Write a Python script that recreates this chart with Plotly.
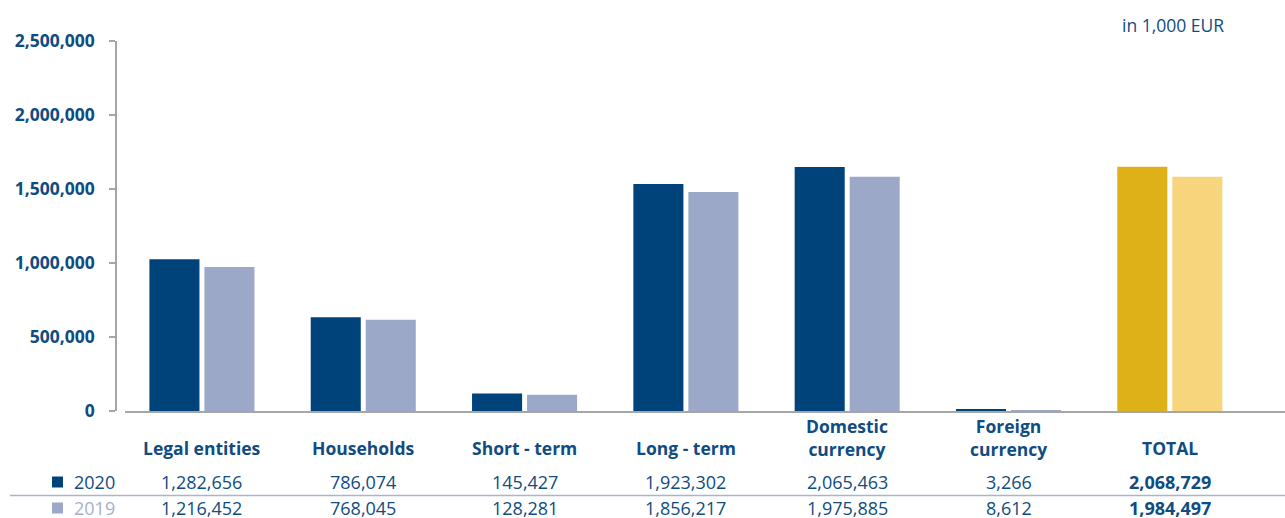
import plotly.graph_objects as go

# ---- data ----
categories = ["Legal entities", "Households", "Short - term", "Long - term",
              "Domestic<br>currency", "Foreign<br>currency", "TOTAL"]
# bar heights (axis scale)
bars_2020 = [1025000, 633000, 119000, 1534000, 1649000, 9000, 1651000]
bars_2019 = [973000, 617000, 110000, 1480000, 1583000, 5000, 1583000]
# table values printed under the chart
table_2020 = ["1,282,656", "786,074", "145,427", "1,923,302", "2,065,463", "3,266", "2,068,729"]
table_2019 = ["1,216,452", "768,045", "128,281", "1,856,217", "1,975,885", "8,612", "1,984,497"]
y_ticks = [0, 500000, 1000000, 1500000, 2000000, 2500000]
y_tick_labels = ["0", "500,000", "1,000,000", "1,500,000", "2,000,000", "2,500,000"]
unit_label = "in 1,000 EUR"
years = ["2020", "2019"]

# ---- style ----
W, H = 1285, 518
ML, MR, MT, MB = 116, 0, 41, 107
PW, PH = W - ML - MR, H - MT - MB
DARK = "#00437b"
LIGHT = "#9ca8c8"
GOLD = "#deb119"
LGOLD = "#f7d57d"
TXT = "#0f4c81"
AXIS = "#a6a6a6"
FONT = "Open Sans"
ROW1, ROW2 = 482, 508


def px_x(p):
    return (p - ML) / PW


def px_y(p):
    return (H - MB - p) / PH


n = len(categories)
xs = list(range(n))
c2020 = [DARK] * (n - 1) + [GOLD]
c2019 = [LIGHT] * (n - 1) + [LGOLD]

fig = go.Figure()
fig.add_trace(go.Bar(x=xs, y=bars_2020, marker=dict(color=c2020, line=dict(width=0)),
                     name=years[0], hoverinfo="skip"))
fig.add_trace(go.Bar(x=xs, y=bars_2019, marker=dict(color=c2019, line=dict(width=0)),
                     name=years[1], hoverinfo="skip"))

annotations = []
for i, cat in enumerate(categories):
    two = "<br>" in cat
    annotations.append(dict(x=i, xref="x", y=px_y(437 if two else 448), yref="paper",
                            text=f"<b>{cat}</b>", showarrow=False, xanchor="center",
                            yanchor="middle", font=dict(family=FONT, size=17.5, color=TXT)))
    bold = cat == "TOTAL"
    t20 = f"<b>{table_2020[i]}</b>" if bold else table_2020[i]
    t19 = f"<b>{table_2019[i]}</b>" if bold else table_2019[i]
    annotations.append(dict(x=i, xref="x", y=px_y(ROW1), yref="paper", text=t20,
                            showarrow=False, xanchor="center", yanchor="middle",
                            font=dict(family=FONT, size=18, color=TXT)))
    annotations.append(dict(x=i, xref="x", y=px_y(ROW2), yref="paper", text=t19,
                            showarrow=False, xanchor="center", yanchor="middle",
                            font=dict(family=FONT, size=18, color=TXT)))

# row labels
annotations.append(dict(x=px_x(72), xref="paper", y=px_y(ROW1), yref="paper", text=years[0],
                        showarrow=False, xanchor="left", yanchor="middle",
                        font=dict(family=FONT, size=18, color=TXT)))
annotations.append(dict(x=px_x(72), xref="paper", y=px_y(ROW2), yref="paper", text=years[1],
                        showarrow=False, xanchor="left", yanchor="middle",
                        font=dict(family=FONT, size=18, color="#a6b0cc")))
# unit label
annotations.append(dict(x=px_x(1226), xref="paper", y=px_y(25), yref="paper", text=unit_label,
                        showarrow=False, xanchor="right", yanchor="middle",
                        font=dict(family=FONT, size=17.5, color=TXT)))

shapes = [
    dict(type="rect", xref="paper", yref="paper", x0=px_x(52), x1=px_x(63),
         y0=px_y(ROW1 + 5.5), y1=px_y(ROW1 - 5.5), fillcolor=DARK, line=dict(width=0)),
    dict(type="rect", xref="paper", yref="paper", x0=px_x(52), x1=px_x(63),
         y0=px_y(ROW2 + 5.5), y1=px_y(ROW2 - 5.5), fillcolor=LIGHT, line=dict(width=0)),
    dict(type="line", xref="paper", yref="paper", x0=px_x(10), x1=px_x(1285),
         y0=px_y(495.5), y1=px_y(495.5), line=dict(color="#aab4d0", width=1.5)),
]

fig.update_layout(
    width=W, height=H,
    margin=dict(l=ML, r=MR, t=MT, b=MB),
    paper_bgcolor="white", plot_bgcolor="white",
    barmode="group", bargap=0.318, bargroupgap=0.09,
    showlegend=False,
    annotations=annotations, shapes=shapes,
    xaxis=dict(domain=[px_x(125), 1], range=[-0.477, 6.714], showticklabels=False,
               ticks="", showgrid=False, zeroline=False, showline=True,
               linecolor=AXIS, linewidth=2, fixedrange=True),
    yaxis=dict(anchor="free", position=0, range=[0, 2500000], tickvals=y_ticks,
               ticktext=y_tick_labels, showgrid=False, zeroline=False, showline=True,
               linecolor=AXIS, linewidth=1.5, ticks="outside", ticklen=6, tickcolor=AXIS,
               tickwidth=1.5, ticklabelstandoff=11,
               tickfont=dict(family=FONT, size=17.5, color=TXT, weight="bold"),
               fixedrange=True),
)

fig.write_html("out.html")
